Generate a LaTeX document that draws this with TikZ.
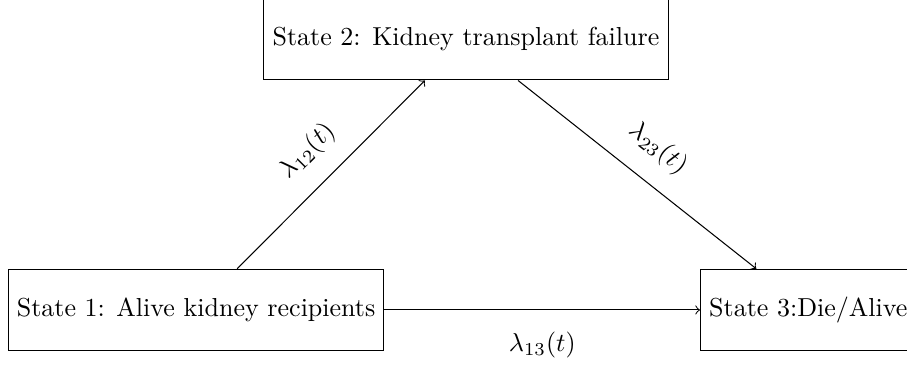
\documentclass[tikz,border=0pt]{standalone}
\usetikzlibrary{positioning}

\begin{document}
\begin{tikzpicture}[
  state/.style={draw, rectangle, minimum height=1.1cm},
  rate/.style={font=\normalsize},
]
\useasboundingbox (0pt,0pt) rectangle (348.8pt,-141.5pt);
% States
\node[state] (s1) at (75.4pt,-119.2pt) {State 1: Alive kidney recipients};
\node[state] (s2) at (179.2pt,-15.1pt) {State 2: Kidney transplant failure};
\node[state, anchor=west] (s3) at (269.2pt,-119.2pt) {State 3:Die/Alive};
% Transitions
\draw[->] (s1) -- node[rate, sloped, above=1.5mm] {$\lambda_{12}(t)$} (s2);
\draw[->] (s2) -- node[rate, sloped, above=1.5mm] {$\lambda_{23}(t)$} (s3);
\draw[->] (s1) -- node[rate, below=1.8mm] {$\lambda_{13}(t)$} (s3);
\end{tikzpicture}
\end{document}
